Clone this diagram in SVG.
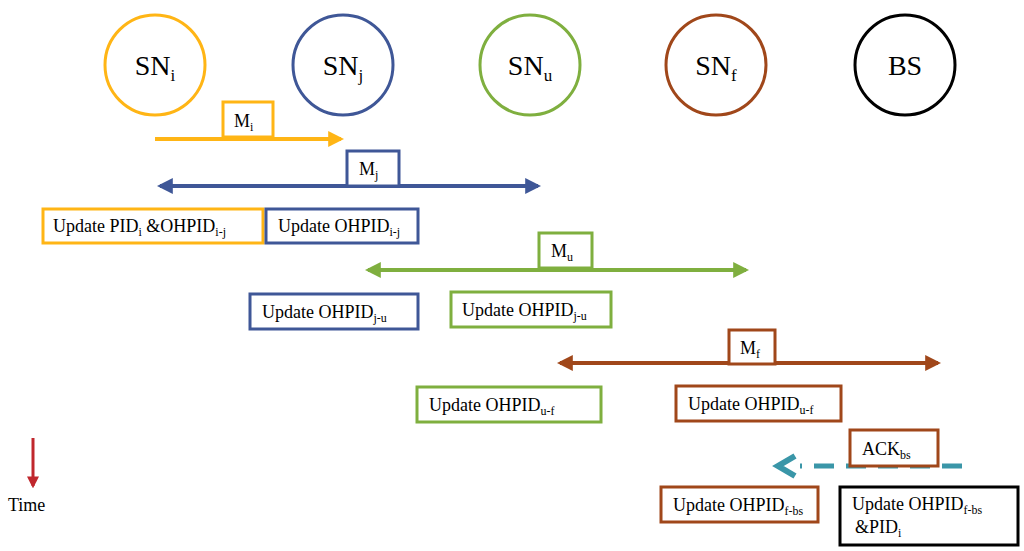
<svg xmlns="http://www.w3.org/2000/svg" width="1024" height="551" viewBox="0 0 1024 551">
<style>
text{font-family:"Liberation Serif","DejaVu Serif","Times New Roman",serif;fill:#000}
.n{font-size:28px;text-anchor:middle}
.t{font-size:18px}
.s{font-size:12px;baseline-shift:-4px}
.ns{font-size:17px;baseline-shift:-6px}
rect{fill:#fff;stroke-width:3}
circle{fill:#fff;stroke-width:3}
.o{stroke:#FFB515}.b{stroke:#3F5797}.g{stroke:#7FAF3F}.r{stroke:#A0471A}.k{stroke:#000}
</style>
<defs>
<marker id="ao" viewBox="0 0 10 10" refX="8" refY="5" markerWidth="4" markerHeight="4" orient="auto-start-reverse"><path d="M0,0L10,5L0,10z" fill="#FFB515"/></marker>
<marker id="ab" viewBox="0 0 10 10" refX="8" refY="5" markerWidth="4" markerHeight="4" orient="auto-start-reverse"><path d="M0,0L10,5L0,10z" fill="#3F5797"/></marker>
<marker id="ag" viewBox="0 0 10 10" refX="8" refY="5" markerWidth="4" markerHeight="4" orient="auto-start-reverse"><path d="M0,0L10,5L0,10z" fill="#7FAF3F"/></marker>
<marker id="ar" viewBox="0 0 10 10" refX="8" refY="5" markerWidth="4" markerHeight="4" orient="auto-start-reverse"><path d="M0,0L10,5L0,10z" fill="#A0471A"/></marker>
<marker id="ad" viewBox="0 0 10 10" refX="8" refY="5" markerWidth="4" markerHeight="4" orient="auto-start-reverse"><path d="M0,0L10,5L0,10z" fill="#C0272D"/></marker>
</defs>
<g id="connectors" fill="none">
<line x1="155" y1="139" x2="341" y2="139" stroke="#FFB515" stroke-width="4" marker-end="url(#ao)"/>
<line x1="160" y1="186" x2="538" y2="186" stroke="#3F5797" stroke-width="4" marker-start="url(#ab)" marker-end="url(#ab)"/>
<line x1="368" y1="270" x2="746" y2="270" stroke="#7FAF3F" stroke-width="4" marker-start="url(#ag)" marker-end="url(#ag)"/>
<line x1="560" y1="363" x2="938" y2="363" stroke="#A0471A" stroke-width="4" marker-start="url(#ar)" marker-end="url(#ar)"/>
<line x1="962" y1="466" x2="800" y2="466" stroke="#3A96A8" stroke-width="5" stroke-dasharray="20,12"/>
<path d="M795,456L778,466L795,476" stroke="#3A96A8" stroke-width="6"/>
<line x1="33" y1="438" x2="33" y2="486" stroke="#C0272D" stroke-width="3" marker-end="url(#ad)"/>
</g>
<g id="SNi"><circle class="o" cx="155" cy="65" r="50"/><text class="n" x="155" y="75">SN<tspan class="ns">i</tspan></text></g>
<g id="SNj"><circle class="b" cx="343" cy="65" r="50"/><text class="n" x="343" y="75">SN<tspan class="ns">j</tspan></text></g>
<g id="SNu"><circle class="g" cx="530" cy="65" r="50"/><text class="n" x="530" y="75">SN<tspan class="ns">u</tspan></text></g>
<g id="SNf"><circle class="r" cx="716" cy="65" r="50"/><text class="n" x="716" y="75">SN<tspan class="ns">f</tspan></text></g>
<g id="BS"><circle class="k" cx="905" cy="65" r="50"/><text class="n" x="905" y="75">BS</text></g>
<g id="Mi"><rect class="o" x="223" y="102" width="50" height="35"/><text class="t" x="234" y="127">M<tspan class="s">i</tspan></text></g>
<g id="Mj"><rect class="b" x="347" y="151" width="52" height="35"/><text class="t" x="359" y="175">M<tspan class="s">j</tspan></text></g>
<g id="Mu"><rect class="g" x="539" y="233" width="53" height="35"/><text class="t" x="551" y="257">M<tspan class="s">u</tspan></text></g>
<g id="Mf"><rect class="r" x="729" y="330" width="46" height="34"/><text class="t" x="740" y="354">M<tspan class="s">f</tspan></text></g>
<g id="U1"><rect class="o" x="43" y="209" width="220" height="34"/><text class="t" x="53" y="232">Update PID<tspan class="s">i</tspan> &amp;OHPID<tspan class="s">i-j</tspan></text></g>
<g id="U2"><rect class="b" x="266" y="209" width="152" height="34"/><text class="t" x="278" y="232">Update OHPID<tspan class="s">i-j</tspan></text></g>
<g id="U3"><rect class="b" x="250" y="294" width="168" height="35"/><text class="t" x="262" y="318">Update OHPID<tspan class="s">j-u</tspan></text></g>
<g id="U4"><rect class="g" x="451" y="292" width="160" height="35"/><text class="t" x="462" y="316">Update OHPID<tspan class="s">j-u</tspan></text></g>
<g id="U5"><rect class="g" x="417" y="387" width="184" height="35"/><text class="t" x="429" y="411">Update OHPID<tspan class="s">u-f</tspan></text></g>
<g id="U6"><rect class="r" x="676" y="386" width="165" height="35"/><text class="t" x="688" y="410">Update OHPID<tspan class="s">u-f</tspan></text></g>
<g id="ACK"><rect class="r" x="850" y="430" width="88" height="36"/><text class="t" x="862" y="455">ACK<tspan class="s">bs</tspan></text></g>
<g id="U7"><rect class="r" x="661" y="487" width="157" height="35"/><text class="t" x="673" y="511">Update OHPID<tspan class="s">f-bs</tspan></text></g>
<g id="U8"><rect class="k" x="840" y="487" width="178" height="58"/><text class="t" x="852" y="510">Update OHPID<tspan class="s">f-bs</tspan></text><text class="t" x="855" y="533">&amp;PID<tspan class="s">i</tspan></text></g>
<g id="Time"><text class="t" x="8" y="511" font-size="17">Time</text></g>
</svg>
